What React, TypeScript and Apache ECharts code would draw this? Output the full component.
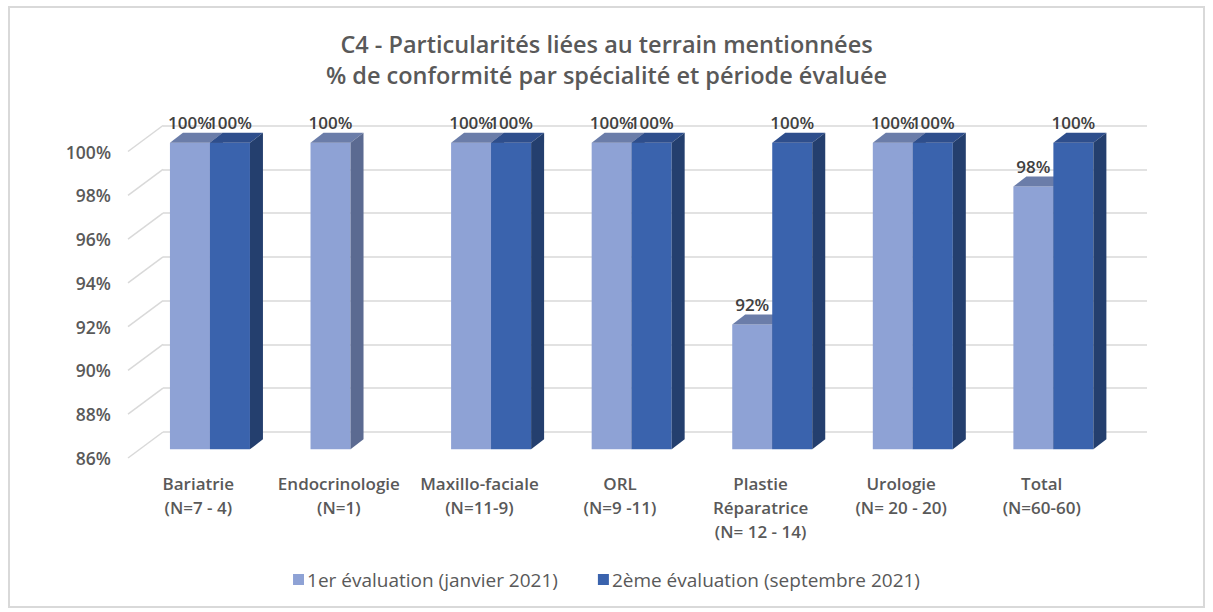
import React, { useEffect, useRef } from "react";
import * as echarts from "echarts";

// ---------- data ----------
const TITLE_LINES = [
  "C4 - Particularités liées au terrain mentionnées",
  "% de conformité par spécialité et période évaluée",
];
const CATEGORIES = [
  "Bariatrie\n(N=7 - 4)",
  "Endocrinologie\n(N=1)",
  "Maxillo-faciale\n(N=11-9)",
  "ORL\n(N=9 -11)",
  "Plastie\nRéparatrice\n(N= 12 - 14)",
  "Urologie\n(N= 20 - 20)",
  "Total\n(N=60-60)",
];
const SERIES_NAMES = [
  "1er évaluation (janvier 2021)",
  "2ème évaluation (septembre 2021)",
];
const EVAL_1: (number | null)[] = [100, 100, 100, 100, 91.7, 100, 98];
const EVAL_2: (number | null)[] = [100, null, 100, 100, 100, 100, 100];
const Y_TICK_VALUES = [86, 88, 90, 92, 94, 96, 98, 100];

// ---------- style / geometry ----------
const Y_MIN = 86;
const Y_MAX = 100;
const Y_STEP = 2;
const FONT = "'Open Sans', 'Noto Sans', Arial, sans-serif";
const TEXT_COLOR = "#595959";
const LABEL_COLOR = "#404040";
const GRID_COLOR = "#d9d9d9";

const FRONT = { left: 128, top: 151.5, width: 984, height: 306.5 };
const DEPTH = { x: 35, y: -26 }; // floor depth (front -> back wall)
const BAR_PLANE = 1 / 3; // where the bars' front face sits in the depth
const BAR_DEPTH = { x: 13, y: -10 };
const BAR_FRACTION = 40 / 140.57;

const COLORS = [
  { front: "#8ea2d5", top: "#6b7da9", side: "#5b6a91" },
  { front: "#3a63ad", top: "#2e4e8c", side: "#243f6e" },
];

function gridAt(f: number) {
  return {
    left: FRONT.left + DEPTH.x * f,
    top: FRONT.top + DEPTH.y * f,
    width: FRONT.width,
    height: FRONT.height,
  };
}

function toPairs(arr: (number | null)[]) {
  const out: number[][] = [];
  arr.forEach((v, i) => {
    if (v !== null) out.push([i, v]);
  });
  return out;
}

function makeBar(side: number) {
  const c = COLORS[side];
  return (params: any, api: any) => {
    const cat = api.value(0);
    const v = api.value(1);
    const topPt = api.coord([cat, v]);
    const basePt = api.coord([cat, Y_MIN]);
    const band = api.size([1, 0])[0];
    const w = band * BAR_FRACTION;
    const x0 = side === 0 ? topPt[0] - w : topPt[0];
    const y = topPt[1];
    const yb = basePt[1];
    const dx = BAR_DEPTH.x;
    const dy = BAR_DEPTH.y;
    return {
      type: "group",
      children: [
        {
          type: "rect",
          shape: { x: x0, y, width: w, height: yb - y },
          style: { fill: c.front },
        },
        {
          type: "polygon",
          shape: {
            points: [
              [x0, y],
              [x0 + dx, y + dy],
              [x0 + w + dx, y + dy],
              [x0 + w, y],
            ],
          },
          style: { fill: c.top },
        },
        {
          type: "polygon",
          shape: {
            points: [
              [x0 + w, y],
              [x0 + w + dx, y + dy],
              [x0 + w + dx, yb + dy],
              [x0 + w, yb],
            ],
          },
          style: { fill: c.side },
        },
        {
          type: "text",
          z2: 10,
          style: {
            text: Math.round(v) + "%",
            x: x0 + w / 2,
            y: y + dy - 2,
            align: "center",
            verticalAlign: "bottom",
            textAlign: "center",
            textVerticalAlign: "bottom",
            fill: LABEL_COLOR,
            font: `600 17px ${FONT}`,
          },
        },
      ],
    };
  };
}

function wallLines(params: any, api: any) {
  const t = api.value(1);
  const p = api.coord([0, t]);
  const band = api.size([1, 0])[0];
  const left = p[0] - band / 2;
  return {
    type: "line",
    shape: { x1: left, y1: p[1], x2: left + DEPTH.x, y2: p[1] + DEPTH.y },
    style: { stroke: GRID_COLOR, lineWidth: 1.5 },
  };
}

export default function App() {
  const ref = useRef<HTMLDivElement>(null);

  useEffect(() => {
    if (!ref.current) return;
    const chart = echarts.init(ref.current, null, { renderer: "svg" });
    const front = gridAt(0);
    const bars = gridAt(BAR_PLANE);
    const back = gridAt(1);

    const yBase = { type: "value", min: Y_MIN, max: Y_MAX, interval: Y_STEP };
    const xBase = { type: "category", data: CATEGORIES, boundaryGap: true };

    chart.setOption({
      animation: false,
      backgroundColor: "#ffffff",
      textStyle: { fontFamily: FONT },
      title: {
        text: TITLE_LINES.join("\n"),
        left: "center",
        top: 28,
        padding: 0,
        textStyle: {
          fontFamily: FONT,
          fontSize: 23.5,
          fontWeight: 600,
          color: TEXT_COLOR,
          lineHeight: 31,
        },
      },
      legend: {
        data: SERIES_NAMES,
        top: 570,
        left: "center",
        padding: 0,
        itemGap: 40,
        itemWidth: 11,
        itemHeight: 11,
        icon: "rect",
        textStyle: {
          fontFamily: FONT,
          fontSize: 19,
          color: TEXT_COLOR,
          padding: [0, 0, 0, -2],
        },
      },
      graphic: [
        {
          type: "rect",
          shape: { x: 9, y: 7, width: 1195, height: 600 },
          style: { fill: "none", stroke: GRID_COLOR, lineWidth: 2 },
          silent: true,
          z: -10,
        },
      ],
      grid: [front, bars, back],
      xAxis: [
        {
          ...xBase,
          gridIndex: 0,
          axisLine: { show: false },
          axisTick: { show: false },
          splitLine: { show: false },
          axisLabel: {
            interval: 0,
            margin: 13,
            color: TEXT_COLOR,
            fontFamily: FONT,
            fontSize: 17,
            fontWeight: 600,
            lineHeight: 24,
          },
        },
        { ...xBase, gridIndex: 1, show: false },
        { ...xBase, gridIndex: 2, show: false },
      ],
      yAxis: [
        {
          ...yBase,
          gridIndex: 0,
          axisLine: { show: false },
          axisTick: { show: false },
          splitLine: { show: false },
          axisLabel: {
            margin: 17,
            formatter: "{value}%",
            color: TEXT_COLOR,
            fontFamily: FONT,
            fontSize: 17.5,
            fontWeight: 600,
          },
        },
        { ...yBase, gridIndex: 1, show: false },
        {
          ...yBase,
          gridIndex: 2,
          axisLine: { show: false },
          axisTick: { show: false },
          axisLabel: { show: false },
          splitLine: { show: true, lineStyle: { color: GRID_COLOR, width: 1.5 } },
        },
      ],
      series: [
        {
          type: "custom",
          name: "wall",
          xAxisIndex: 0,
          yAxisIndex: 0,
          silent: true,
          z: 1,
          renderItem: wallLines,
          data: Y_TICK_VALUES.map((t) => [0, t]),
        },
        {
          type: "custom",
          name: SERIES_NAMES[0],
          xAxisIndex: 1,
          yAxisIndex: 1,
          itemStyle: { color: COLORS[0].front },
          renderItem: makeBar(0),
          data: toPairs(EVAL_1),
          z: 2,
        },
        {
          type: "custom",
          name: SERIES_NAMES[1],
          xAxisIndex: 1,
          yAxisIndex: 1,
          itemStyle: { color: COLORS[1].front },
          renderItem: makeBar(1),
          data: toPairs(EVAL_2),
          z: 3,
        },
      ],
    });
    return () => chart.dispose();
  }, []);

  return (
    <div
      ref={ref}
      style={{ position: "absolute", left: 0, top: 0, width: 1213, height: 612 }}
    />
  );
}
